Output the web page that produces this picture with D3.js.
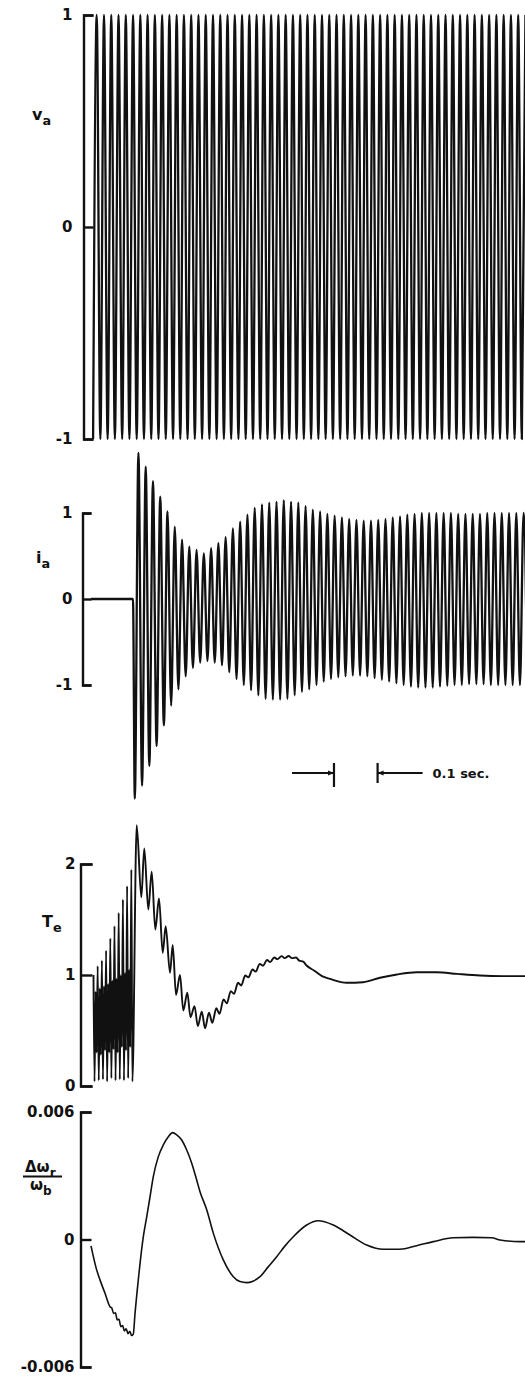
<!DOCTYPE html>
<html><head><meta charset="utf-8">
<script src="https://cdn.jsdelivr.net/npm/d3@7"></script>
<style>body{margin:0;background:#fff}svg{display:block}</style>
</head><body>
<svg id="chart" width="525" height="1378"></svg>
<script>
// ---------------- DATA (time in ms) ----------------
const timeDomainMs = [0, 995.4];
const halfCycleMs = 1000 / 120;          // 60 Hz supply, one extremum every half cycle

// v_a : successive extrema, one per half cycle
const vaStartMs = 4.8;
const vaExtrema = [-1,1,-1,1,-1,1,-1,1,-1,1,-1,1,-1,1,-1,1,-1,1,-1,1,
  -1,1,-1,1,-1,1,-1,1,-1,1,-1,1,-1,1,-1,1,-1,1,-1,1,
  -1,1,-1,1,-1,1,-1,1,-1,1,-1,1,-1,1,-1,1,-1,1,-1,1,
  -1,1,-1,1,-1,1,-1,1,-1,1,-1,1,-1,1,-1,1,-1,1,-1,1,
  -1,1,-1,1,-1,1,-1,1,-1,1,-1,1,-1,1,-1,1,-1,1,-1,1,
  -1,1,-1,1,-1,1,-1,1,-1,1,-1,1,-1,1,-1,1,-1,1,-1,1];
const vaTicks = [-1, 0, 1];
const vaTickLabels = ["-1", "0", "1"];

// i_a : zero until switching, then successive extrema
const iaStartMs = 96.3;
const iaExtrema = [-2.32,1.70,-2.17,1.54,-1.94,1.37,-1.71,1.19,-1.47,1.02,
  -1.24,0.84,-1.05,0.69,-0.90,0.61,-0.80,0.57,-0.74,0.53,
  -0.72,0.59,-0.74,0.65,-0.77,0.72,-0.85,0.82,-0.93,0.90,
  -1.00,0.98,-1.06,1.06,-1.12,1.10,-1.16,1.12,-1.17,1.13,
  -1.17,1.15,-1.16,1.13,-1.12,1.12,-1.08,1.08,-1.05,1.04,
  -1.00,1.02,-0.96,0.99,-0.93,0.97,-0.91,0.95,-0.90,0.93,
  -0.89,0.92,-0.89,0.91,-0.90,0.91,-0.92,0.92,-0.94,0.93,
  -0.96,0.95,-0.98,0.96,-1.00,0.98,-1.02,0.99,-1.03,1.00,
  -1.03,1.00,-1.03,1.00,-1.02,1.00,-1.01,1.00,-1.00,0.99,
  -1.00,0.99,-0.99,0.99,-0.99,0.99,-0.99,1.00,-1.00,1.00,
  -1.00,1.00,-1.00,1.00,-1.00,1.00,-1.00,1.00,-1.00];
const iaTicks = [-1, 0, 1];
const iaTickLabels = ["-1", "0", "1"];

// T_e : electromagnetic torque
const teTimeMs = [5.7,8.1,10.5,12.9,15.3,17.8,20.2,22.6,25.0,27.4,
  29.8,32.2,34.6,37.0,39.4,41.9,44.3,46.7,49.1,51.5,
  53.9,56.3,58.7,61.1,63.5,66.0,68.4,70.8,73.2,75.6,
  78.0,80.4,82.8,85.2,87.6,90.1,92.5,94.9,
  104.8,115.4,122.2,131.4,139.2,147.5,156.0,164.5,171.3,181.2,
  187.4,195.0,204.1,211.7,220.9,228.2,237.4,245.0,254.1,261.5,
  270.6,278.2,287.4,294.7,303.9,311.5,320.6,328.0,337.2,344.5,
  353.7,361.2,370.4,377.8,386.9,394.5,403.7,411.0,420.2,427.8,
  436.9,444.3,453.4,461.0,470.2,477.5,486.7,494.3,511.5,529.8,
  548.2,586.5,623.9,662.8,701.8,747.7,793.6,839.4,892.2,945.0,995.4];
const teValue = [1.00,0.04,0.85,0.30,1.08,0.05,0.88,0.28,1.13,0.06,
  0.90,0.32,1.22,0.04,0.92,0.30,1.33,0.07,0.95,0.33,
  1.44,0.05,0.97,0.30,1.56,0.06,1.00,0.35,1.68,0.05,
  1.02,0.32,1.80,0.07,1.05,0.35,1.95,0.04,
  2.35,1.70,2.14,1.59,1.93,1.41,1.69,1.20,1.44,1.02,
  1.27,0.82,1.00,0.68,0.84,0.62,0.72,0.54,0.67,0.52,
  0.66,0.57,0.70,0.65,0.78,0.745,0.855,0.83,0.93,0.905,
  0.995,0.98,1.05,1.03,1.10,1.084,1.135,1.116,1.157,1.143,
  1.17,1.152,1.171,1.152,1.157,1.129,1.12,1.086,1.04,0.99,
  0.965,0.93,0.935,0.975,1.005,1.025,1.025,1.01,0.995,0.99,0.99];
const teTicks = [0, 1, 2];
const teTickLabels = ["0", "1", "2"];

// Δω_r / ω_b : rotor speed deviation
const dwTimeMs = [0,13.1,20.6,32.1,43.6,47.7,51.8,56.0,60.1,64.2,
  68.3,72.5,76.6,80.7,84.9,89.0,93.1,97.0,100.9,108.5,
  120.0,127.8,135.3,142.9,154.4,165.8,177.3,187.4,196.6,208.0,
  219.5,231.0,242.4,250.0,265.4,280.5,303.4,326.4,341.7,357.1,
  371.6,387.6,406.0,425.9,445.0,464.0,494.7,521.3,555.7,594.0,
  632.3,670.4,708.7,747.0,785.1,831.0,876.8,919.0,938.1,983.9,995.4];
const dwValue = [-0.0003,-0.00144,-0.0019,-0.00253,-0.00316,-0.00322,-0.00348,-0.00345,-0.00378,-0.00375,
  -0.0041,-0.00405,-0.0043,-0.0042,-0.00443,-0.00432,-0.00452,-0.00445,-0.0035,-0.0019,
  0.00013,0.00107,0.002,0.00296,0.0039,0.00445,0.00484,0.00503,0.00492,0.00468,
  0.00421,0.00359,0.0028,0.00225,0.0014,0.0003,-0.00096,-0.00175,-0.00198,-0.00203,
  -0.00196,-0.00175,-0.0013,-0.00081,-0.0003,0.00013,0.00068,0.00088,0.00068,0.00021,
  -0.00026,-0.00046,-0.00046,-0.00029,-0.0001,0.00008,0.0001,0.00008,-0.00002,-0.0001,-0.0001];
const dwTicks = [-0.006, 0, 0.006];
const dwTickLabels = ["-0.006", "0", "0.006"];

// time scale bar
const scaleBarStartMs = 557.3;
const scaleBarLengthMs = 100;
const scaleBarLabel = "0.1 sec.";

// ---------------- DRAWING ----------------
const ink = "#111";
const font = "DejaVu Sans, Liberation Sans, sans-serif";
const svg = d3.select("#chart");
const x = d3.scaleLinear().domain(timeDomainMs).range([91, 525]);

const yVa = d3.scaleLinear().domain([-1, 1]).range([439, 15]);
const yIa = d3.scaleLinear().domain([-1, 1]).range([685, 513]);
const yTe = d3.scaleLinear().domain([0, 2]).range([1086, 864]);
const yDw = d3.scaleLinear().domain([-0.006, 0.006]).range([1367, 1112]);

function bracket(y, ticks, labels, bx, tickLen, pad, fs) {
  const ax = d3.axisLeft(y).tickValues(ticks)
    .tickFormat(d => labels[ticks.indexOf(d)])
    .tickSize(-tickLen).tickSizeOuter(-tickLen).tickPadding(pad);
  const g = svg.append("g").attr("transform", `translate(${bx},0)`).call(ax);
  g.select(".domain").attr("stroke", ink).attr("stroke-width", 2.4).attr("fill", "none");
  g.selectAll(".tick line").attr("stroke", ink).attr("stroke-width", 2.4);
  g.selectAll(".tick text").attr("font-family", font).attr("font-weight", "bold")
    .attr("font-size", fs).attr("fill", ink);
}

bracket(yVa, vaTicks, vaTickLabels, 83.5, 10, 11, 15);
bracket(yIa, iaTicks, iaTickLabels, 82.5, 9, 10, 15);
bracket(yTe, teTicks, teTickLabels, 80.5, 12, 5, 15);
bracket(yDw, dwTicks, dwTickLabels, 80.5, 11, 6, 15);

function trace(points, y, width) {
  const line = d3.line().x(d => x(d[0])).y(d => y(d[1])).curve(d3.curveMonotoneX);
  svg.append("path").attr("d", line(points)).attr("fill", "none")
    .attr("stroke", ink).attr("stroke-width", width).attr("stroke-linejoin", "round");
}

// v_a
trace(vaExtrema.map((v, k) => [vaStartMs + k * halfCycleMs, v]), yVa, 2.3);
// i_a
const iaPts = [[0, 0], [iaStartMs, 0]].concat(
  iaExtrema.map((v, k) => [iaStartMs + halfCycleMs / 2 + k * halfCycleMs, v]));
trace(iaPts, yIa, 2.3);
// T_e
trace(teTimeMs.map((t, i) => [t, teValue[i]]), yTe, 1.9);
// Δω
trace(dwTimeMs.map((t, i) => [t, dwValue[i]]), yDw, 1.6);

// time scale bar
{
  const yb = 773;
  const a = x(scaleBarStartMs), b = x(scaleBarStartMs + scaleBarLengthMs);
  const g = svg.append("g").attr("stroke", ink).attr("stroke-width", 1.8);
  g.append("line").attr("x1", a - 42).attr("x2", a).attr("y1", yb).attr("y2", yb);
  g.append("line").attr("x1", b).attr("x2", b + 45).attr("y1", yb).attr("y2", yb);
  g.append("line").attr("x1", a).attr("x2", a).attr("y1", yb - 10).attr("y2", yb + 14).attr("stroke-width", 2.2);
  g.append("line").attr("x1", b).attr("x2", b).attr("y1", yb - 10).attr("y2", yb + 10).attr("stroke-width", 2.2);
  svg.append("path").attr("d", `M${a},${yb}L${a - 6},${yb - 2.5}L${a - 6},${yb + 2.5}Z`).attr("fill", ink);
  svg.append("path").attr("d", `M${b},${yb}L${b + 6},${yb - 2.5}L${b + 6},${yb + 2.5}Z`).attr("fill", ink);
  svg.append("text").attr("x", b + 55).attr("y", yb + 5).text(scaleBarLabel)
    .attr("font-family", font).attr("font-weight", "bold").attr("font-size", 13).attr("fill", ink);
}

// variable labels
function label(xp, yp, main, sub, size) {
  const t = svg.append("text").attr("x", xp).attr("y", yp)
    .attr("font-family", font).attr("font-weight", "bold").attr("font-size", size).attr("fill", ink);
  t.append("tspan").text(main);
  t.append("tspan").attr("dy", size * 0.3).attr("font-size", size * 0.8).text(sub);
  return t;
}
label(32, 120, "v", "a", 16);
label(36, 563, "i", "a", 16);
label(42, 927, "T", "e", 16);
// fraction Δω_r / ω_b
label(25, 1172, "Δω", "r", 15);
svg.append("line").attr("x1", 23).attr("x2", 62).attr("y1", 1176.5).attr("y2", 1176.5)
  .attr("stroke", ink).attr("stroke-width", 2.2);
label(30, 1190, "ω", "b", 15);
</script>
</body></html>
